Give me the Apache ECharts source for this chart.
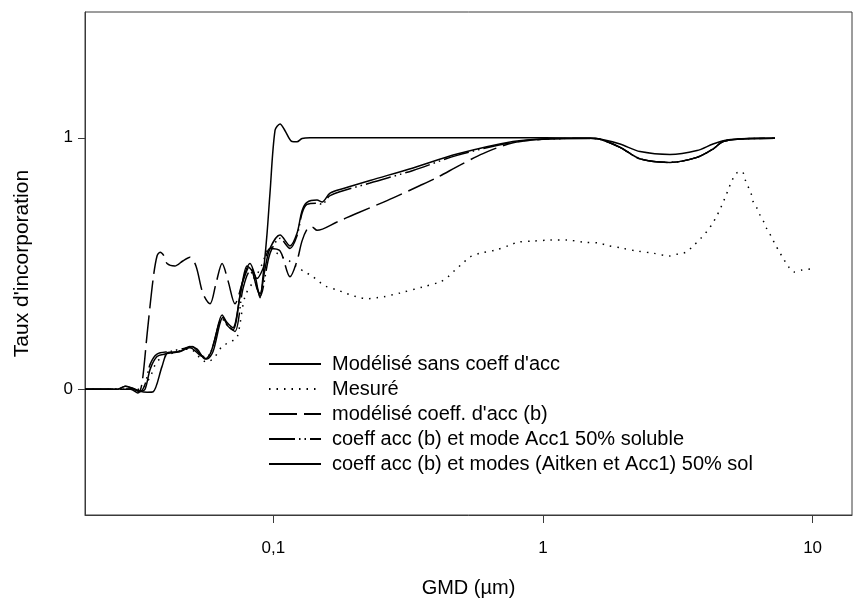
<!DOCTYPE html>
<html lang="fr">
<head>
<meta charset="UTF-8">
<title>Taux d'incorporation</title>
<script src="https://cdn.jsdelivr.net/npm/echarts@6/dist/echarts.min.js"></script>
<style>
    html, body { margin: 0; padding: 0; background: #fff; }
    #container { width: 855px; height: 601px; }
</style>
</head>
<body>
<div id="container"></div>
<script type="text/javascript">
    // GMD (µm) et taux
    var gmdSans = [0.020,0.0265,0.0282,0.0299,0.0320,0.0340,0.0358,0.0386,0.0406,0.0450,0.0499,0.0534,0.0567,0.0597,0.0650,0.0679,0.0708,0.0765,0.0819,0.0855,0.0892,0.0915,0.0947,0.0971,0.1014,0.1058,0.1104,0.1172,0.1223,0.1277,0.1368,0.295,0.69,1.494,1.627,1.931,2.290,2.958,3.726,4.272,4.814,5.86,7.254];
    var tauxSans = [0,0,0.012,0.005,-0.008,-0.012,-0.01,0.09,0.146,0.15,0.17,0.14,0.12,0.15,0.285,0.25,0.237,0.42,0.50,0.45,0.364,0.45,0.62,0.78,1.03,1.055,1.028,0.985,0.984,0.997,1.0,1.0,1.0,0.998,0.995,0.975,0.945,0.933,0.949,0.975,0.991,0.997,0.998];

    var gmdMesure = [0.020,0.0320,0.0349,0.0370,0.0413,0.0490,0.0534,0.0567,0.0607,0.0645,0.0696,0.0733,0.0785,0.0855,0.0910,0.0971,0.1058,0.1133,0.1223,0.1310,0.1391,0.1480,0.1560,0.1722,0.1844,0.1974,0.2095,0.2243,0.2423,0.2572,0.2949,0.3589,0.4150,0.4441,0.4717,0.5050,0.5360,0.5838,0.6637,0.7543,0.8077,0.9181,1.062,1.227,1.407,1.627,1.713,1.963,2.251,2.559,2.958,3.168,3.392,3.600,3.856,4.058,4.236,4.383,4.535,4.653,4.774,4.898,5.024,5.199,5.473,5.615,5.762,5.911,6.013,6.222,6.383,6.604,6.775,7.010,7.254,7.506,7.767,8.106,8.531,9.135,9.779];
    var tauxMesure = [0,0,0.05,0.11,0.14,0.16,0.125,0.107,0.13,0.17,0.19,0.205,0.37,0.44,0.50,0.565,0.53,0.514,0.486,0.466,0.45,0.427,0.41,0.395,0.383,0.372,0.364,0.36,0.364,0.368,0.383,0.407,0.427,0.447,0.474,0.502,0.526,0.541,0.553,0.573,0.585,0.589,0.593,0.593,0.585,0.581,0.573,0.561,0.549,0.541,0.530,0.538,0.545,0.569,0.601,0.628,0.656,0.684,0.715,0.743,0.771,0.802,0.830,0.858,0.866,0.834,0.806,0.779,0.747,0.719,0.692,0.664,0.636,0.609,0.577,0.549,0.522,0.490,0.466,0.474,0.478];

    var gmdCoeffB = [0.020,0.0295,0.0314,0.0325,0.0340,0.0358,0.0370,0.0380,0.0393,0.0403,0.0431,0.0461,0.0490,0.0516,0.0548,0.0582,0.0612,0.0645,0.0679,0.0720,0.0771,0.0819,0.0869,0.0915,0.0971,0.1058,0.1152,0.1223,0.1277,0.1340,0.1391,0.1451,0.172,0.2042,0.2639,0.3499,0.4045,0.49,0.5989,0.7739,1.035,1.494,1.627,1.931,2.290,2.958,3.726,4.272,4.653,5.379,7.254];
    var tauxCoeffB = [0,0,-0.015,0.02,0.22,0.44,0.53,0.545,0.53,0.50,0.49,0.51,0.525,0.49,0.38,0.34,0.42,0.50,0.43,0.34,0.43,0.49,0.44,0.48,0.56,0.55,0.447,0.51,0.59,0.64,0.645,0.632,0.665,0.70,0.75,0.81,0.842,0.89,0.937,0.98,0.995,0.998,0.994,0.962,0.916,0.902,0.922,0.955,0.985,0.995,0.998];

    var gmdAcc1 = [0.020,0.0265,0.0299,0.0320,0.0334,0.0349,0.0370,0.0413,0.0490,0.0548,0.0582,0.0645,0.0679,0.0720,0.0771,0.0819,0.0855,0.0892,0.0971,0.1058,0.1152,0.1223,0.1277,0.1332,0.1451,0.1515,0.1622,0.2282,0.3295,0.4798,0.7739,1.035,1.494,1.627,1.931,2.290,2.958,3.726,4.272,4.653,5.379,7.254];
    var tauxAcc1 = [0,0,0.002,-0.01,0.02,0.10,0.14,0.15,0.165,0.13,0.14,0.28,0.25,0.23,0.40,0.47,0.43,0.37,0.54,0.60,0.56,0.61,0.70,0.735,0.74,0.735,0.77,0.82,0.87,0.93,0.982,0.995,0.997,0.994,0.962,0.916,0.902,0.922,0.955,0.985,0.995,0.998];

    var gmdAitken = [0.020,0.0265,0.0282,0.0299,0.0320,0.0334,0.0349,0.0370,0.0396,0.0421,0.0450,0.0490,0.0521,0.0558,0.0582,0.0607,0.0645,0.0673,0.0708,0.0752,0.0798,0.0833,0.0869,0.0892,0.0931,0.0971,0.1058,0.1152,0.1223,0.1277,0.1332,0.1451,0.1515,0.1622,0.1844,0.2282,0.3295,0.4798,0.7739,1.035,1.494,1.627,1.931,2.290,2.958,3.726,4.272,4.653,5.379,7.254];
    var tauxAitken = [0,0,0.012,0.004,-0.008,0.0,0.08,0.13,0.14,0.145,0.15,0.17,0.16,0.12,0.14,0.2,0.295,0.265,0.245,0.37,0.49,0.47,0.40,0.38,0.48,0.56,0.613,0.57,0.62,0.71,0.743,0.752,0.745,0.78,0.80,0.83,0.88,0.935,0.985,0.996,0.998,0.994,0.962,0.916,0.902,0.922,0.955,0.985,0.995,0.998];

    var seriesNames = [
        "Modélisé sans coeff d'acc",
        'Mesuré',
        "modélisé coeff. d'acc (b)",
        'coeff acc (b) et mode Acc1 50% soluble',
        'coeff acc (b) et modes (Aitken et Acc1) 50% sol'
    ];
    var xTicks = [0.1, 1, 10];
    var yTicks = [0, 1];

    function zip(xs, ys) {
        return xs.map(function (x, i) { return [x, ys[i]]; });
    }

    var dom = document.getElementById('container');
    var myChart = echarts.init(dom, null, { renderer: 'canvas' });

    var font = 'Liberation Sans, Arial, sans-serif';
    var frame = '#3a3a3a';

    function makeLine(name, data, dash) {
        return {
            name: name,
            type: 'line',
            data: data,
            smooth: 0.3,
            symbol: 'none',
            animation: false,
            itemStyle: { color: '#000' },
            lineStyle: { color: '#000', width: 1.5, type: dash }
        };
    }

    var option = {
        backgroundColor: '#fff',
        textStyle: { fontFamily: font },
        grid: {
            left: 85, right: 3, top: 12, bottom: 86,
            outerBoundsMode: 'none',
            show: true,
            borderColor: frame,
            borderWidth: 1
        },
        legend: {
            orient: 'vertical',
            left: 268,
            top: 354,
            padding: 0,
            itemWidth: 52,
            itemHeight: 20,
            itemGap: 5,
            itemStyle: { opacity: 0 },
            textStyle: { color: '#000', fontSize: 20, lineHeight: 20, fontFamily: font, padding: [0, 0, 0, 6] },
            data: seriesNames
        },
        xAxis: {
            type: 'log',
            logBase: 10,
            min: 0.02,
            max: 14,
            name: 'GMD (µm)',
            nameLocation: 'middle',
            nameGap: 63,
            nameTextStyle: { color: '#000', fontSize: 20, fontFamily: font },
            axisLine: { show: true, onZero: false, lineStyle: { color: frame, width: 1 } },
            axisTick: { show: true, length: 8, customValues: xTicks, lineStyle: { color: frame } },
            axisLabel: {
                color: '#000', fontSize: 17, margin: 25,
                customValues: xTicks,
                formatter: function (v) { return String(v).replace('.', ','); }
            },
            splitLine: { show: false },
            minorTick: { show: false }
        },
        yAxis: {
            type: 'value',
            min: -0.5,
            max: 1.5,
            name: "Taux d'incorporation",
            nameLocation: 'middle',
            nameGap: 52,
            nameTextStyle: { color: '#000', fontSize: 21, fontFamily: font },
            axisLine: { show: true, onZero: false, lineStyle: { color: frame, width: 1 } },
            axisTick: { show: true, length: 7, customValues: yTicks, lineStyle: { color: frame } },
            axisLabel: { color: '#000', fontSize: 17, margin: 12, customValues: yTicks },
            splitLine: { show: false }
        },
        series: [
            makeLine(seriesNames[0], zip(gmdSans, tauxSans), 'solid'),
            makeLine(seriesNames[1], zip(gmdMesure, tauxMesure), [1.5, 6]),
            makeLine(seriesNames[2], zip(gmdCoeffB, tauxCoeffB), [28, 7]),
            makeLine(seriesNames[3], zip(gmdAcc1, tauxAcc1), [26, 4, 1.5, 4, 1.5, 4]),
            makeLine(seriesNames[4], zip(gmdAitken, tauxAitken), 'solid')
        ]
    };
    myChart.setOption(option);
    window.addEventListener('resize', myChart.resize);
</script>
</body>
</html>
